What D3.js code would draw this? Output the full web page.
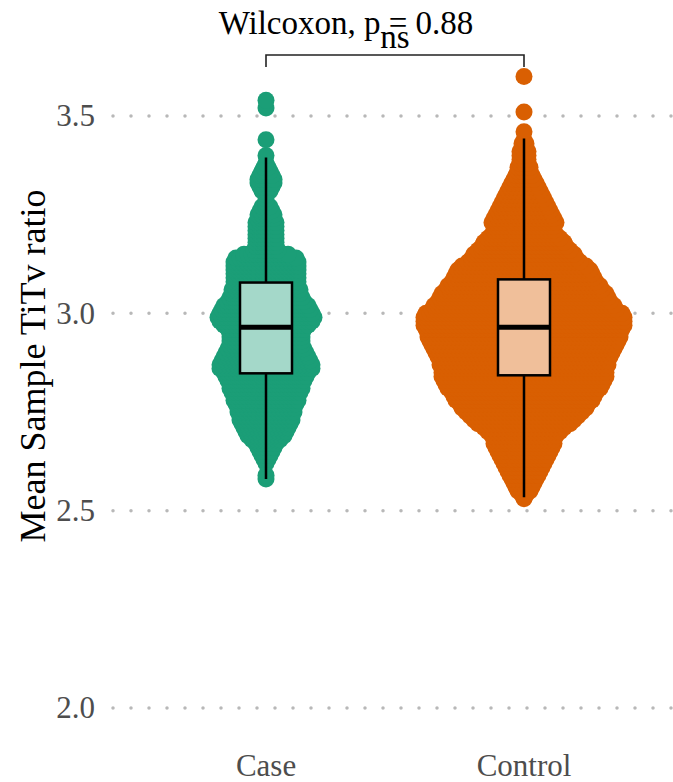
<!DOCTYPE html>
<html>
<head>
<meta charset="utf-8">
<script src="https://cdn.jsdelivr.net/npm/d3@7"></script>
<style>
  html, body { margin: 0; padding: 0; background: #ffffff; }
  svg { display: block; }
  svg text { font-family: "Liberation Serif", "DejaVu Serif", serif !important; }
</style>
</head>
<body>
<svg id="chart" width="673" height="782"></svg>
<script>
// Groups and colours
const groups = ["Case", "Control"];
const groupColors = ["#1b9e77", "#d95f02"];

// Y axis ticks
const yTicks = [2.0, 2.5, 3.0, 3.5];

// Sample TiTv ratios, binned to 0.01: [ratio, number of samples]
const caseRows = [
  [2.58, 1], [2.59, 1], [2.62, 1], [2.63, 2], [2.64, 3], [2.65, 4], [2.66, 5], [2.67, 6],
  [2.68, 8], [2.69, 10], [2.70, 11], [2.71, 12], [2.72, 13], [2.73, 14], [2.74, 14], [2.75, 15],
  [2.76, 15], [2.77, 16], [2.78, 17], [2.79, 17], [2.80, 18], [2.81, 19], [2.82, 19], [2.83, 20],
  [2.84, 21], [2.85, 22], [2.86, 24], [2.87, 24], [2.88, 23], [2.89, 22], [2.90, 21], [2.91, 20],
  [2.92, 19], [2.93, 19], [2.94, 19], [2.95, 19], [2.96, 20], [2.97, 22], [2.98, 24], [2.99, 25],
  [3.00, 24], [3.01, 23], [3.02, 22], [3.03, 20], [3.04, 19], [3.05, 18], [3.06, 18], [3.07, 17],
  [3.08, 17], [3.09, 17], [3.10, 17], [3.11, 17], [3.12, 17], [3.13, 17], [3.14, 16], [3.15, 12],
  [3.16, 7], [3.17, 6], [3.18, 6], [3.19, 6], [3.20, 6], [3.21, 6], [3.22, 6], [3.23, 6],
  [3.24, 5], [3.25, 5], [3.26, 4], [3.27, 3], [3.28, 1], [3.29, 1], [3.30, 1], [3.31, 3],
  [3.32, 4], [3.33, 5], [3.34, 5], [3.35, 4], [3.36, 3], [3.37, 2], [3.38, 1], [3.40, 1],
  [3.44, 1], [3.52, 1], [3.54, 1]
];

const controlRows = [
  [2.53, 1], [2.54, 2], [2.55, 4], [2.56, 5], [2.57, 6], [2.58, 7], [2.59, 8], [2.60, 9],
  [2.61, 10], [2.62, 11], [2.63, 12], [2.64, 13], [2.65, 14], [2.66, 15], [2.67, 16], [2.68, 16],
  [2.69, 17], [2.70, 19], [2.71, 21], [2.72, 24], [2.73, 26], [2.74, 28], [2.75, 30], [2.76, 32],
  [2.77, 33], [2.78, 35], [2.79, 36], [2.80, 37], [2.81, 39], [2.82, 40], [2.83, 41], [2.84, 42],
  [2.85, 42], [2.86, 42], [2.87, 43], [2.88, 43], [2.89, 44], [2.90, 45], [2.91, 46], [2.92, 47],
  [2.93, 48], [2.94, 49], [2.95, 49], [2.96, 50], [2.97, 51], [2.98, 51], [2.99, 51], [3.00, 50],
  [3.01, 47], [3.02, 46], [3.03, 44], [3.04, 43], [3.05, 42], [3.06, 40], [3.07, 39], [3.08, 37],
  [3.09, 36], [3.10, 35], [3.11, 34], [3.12, 32], [3.13, 29], [3.14, 27], [3.15, 26], [3.16, 24],
  [3.17, 22], [3.18, 21], [3.19, 19], [3.20, 17], [3.21, 16], [3.22, 16], [3.23, 17], [3.24, 16],
  [3.25, 15], [3.26, 14], [3.27, 13], [3.28, 12], [3.29, 11], [3.30, 10], [3.31, 9], [3.32, 8],
  [3.33, 7], [3.34, 6], [3.35, 5], [3.36, 4], [3.37, 4], [3.38, 3], [3.39, 3], [3.40, 3],
  [3.41, 3], [3.42, 2], [3.43, 2], [3.44, 1], [3.46, 1], [3.51, 1], [3.60, 1]
];

// Box summaries: [lower whisker, Q1, median, Q3, upper whisker]
const caseBox = [2.58, 2.848, 2.965, 3.078, 3.395];
const controlBox = [2.534, 2.843, 2.965, 3.086, 3.443];

// Comparison annotation
const testLabel = "Wilcoxon, p = 0.88";
const signifLabel = "ns";

const rowsByGroup = [caseRows, controlRows];
const boxByGroup = [caseBox, controlBox];

const svg = d3.select("#chart");

const y = d3.scaleLinear().domain([2.0, 3.5]).range([708, 116]);
const x = d3.scaleBand().domain(groups).range([137, 653]).padding(0);
const cx = g => x(g) + x.bandwidth() / 2;

// Dotted horizontal grid
svg.append("g")
  .selectAll("line")
  .data(yTicks)
  .join("line")
  .attr("x1", 113)
  .attr("x2", 673)
  .attr("y1", d => y(d))
  .attr("y2", d => y(d))
  .attr("stroke", "#b8b8b8")
  .attr("stroke-width", 3.5)
  .attr("stroke-linecap", "round")
  .attr("stroke-dasharray", "0 18");

// Y axis labels
const yAxis = svg.append("g")
  .attr("transform", "translate(103,0)")
  .call(d3.axisLeft(y).tickValues(yTicks).tickSize(0).tickPadding(8).tickFormat(d3.format(".1f")));
yAxis.select(".domain").remove();
yAxis.selectAll("text")
  .style("font-size", "31px")
  .attr("fill", "#4d4d4d");

// X axis labels
const xAxis = svg.append("g")
  .attr("transform", "translate(0,754)")
  .call(d3.axisBottom(x).tickSize(0).tickPadding(0));
xAxis.select(".domain").remove();
xAxis.selectAll("text")
  .style("font-size", "31px")
  .attr("fill", "#4d4d4d");

// Y axis title
svg.append("text")
  .attr("transform", `translate(45,366) rotate(-90)`)
  .attr("text-anchor", "middle")
  .style("font-size", "36px")
  .attr("fill", "#000")
  .text("Mean Sample TiTv ratio");

// Beeswarm points: each bin is laid out as a centred row
const radius = 8.5;
const step = 4;
groups.forEach((g, gi) => {
  const pts = [];
  rowsByGroup[gi].forEach(([v, n]) => {
    for (let i = 0; i < n; i++) {
      pts.push({ x: cx(g) + (i - (n - 1) / 2) * step, y: y(v) });
    }
  });
  svg.append("g")
    .selectAll("circle")
    .data(pts)
    .join("circle")
    .attr("cx", d => d.x)
    .attr("cy", d => d.y)
    .attr("r", radius)
    .attr("fill", groupColors[gi]);
});

// Box plots
const boxWidth = 52;
groups.forEach((g, gi) => {
  const [lo, q1, med, q3, hi] = boxByGroup[gi];
  const c = cx(g);
  const gBox = svg.append("g");
  gBox.append("line")
    .attr("x1", c).attr("x2", c)
    .attr("y1", y(lo)).attr("y2", y(hi))
    .attr("stroke", "#000").attr("stroke-width", 2.5);
  gBox.append("rect")
    .attr("x", c - boxWidth / 2)
    .attr("y", y(q3))
    .attr("width", boxWidth)
    .attr("height", y(q1) - y(q3))
    .attr("fill", d3.interpolateRgb("#ffffff", groupColors[gi])(0.4))
    .attr("stroke", "#000")
    .attr("stroke-width", 2.5);
  gBox.append("line")
    .attr("x1", c - boxWidth / 2).attr("x2", c + boxWidth / 2)
    .attr("y1", y(med)).attr("y2", y(med))
    .attr("stroke", "#000").attr("stroke-width", 5);
});

// Comparison bracket and labels
const x1 = cx(groups[0]);
const x2 = cx(groups[1]);
svg.append("path")
  .attr("d", `M${x1},67 V55 H${x2} V67`)
  .attr("fill", "none")
  .attr("stroke", "#222")
  .attr("stroke-width", 1.6);

svg.append("text")
  .attr("x", 346)
  .attr("y", 34)
  .attr("text-anchor", "middle")
  .style("font-size", "33px")
  .attr("fill", "#000")
  .text(testLabel);

svg.append("text")
  .attr("x", (x1 + x2) / 2)
  .attr("y", 48)
  .attr("text-anchor", "middle")
  .style("font-size", "33px")
  .attr("fill", "#000")
  .text(signifLabel);
</script>
</body>
</html>
